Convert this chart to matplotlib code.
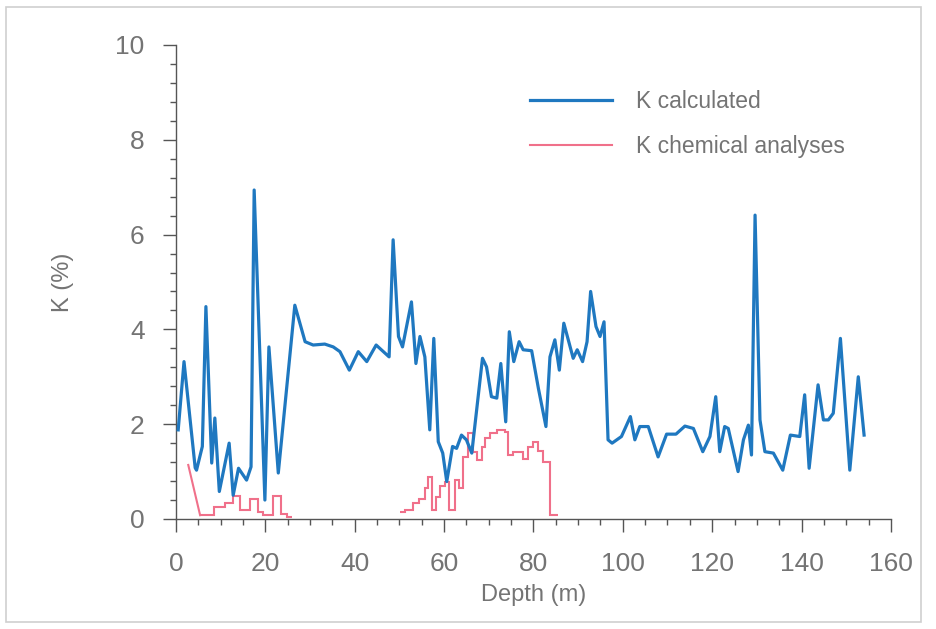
import numpy as np
import matplotlib
matplotlib.use("Agg")
import matplotlib.pyplot as plt
from matplotlib.patches import Rectangle
from matplotlib.ticker import MultipleLocator

plt.rcParams['font.family'] = ['Liberation Sans', 'DejaVu Sans']

# K calculated (blue line)
depth_calc = [0.5, 1.8, 4.3, 4.6, 5.9, 6.7, 8.0, 8.7, 9.7, 11.9, 12.8, 14.0, 15.8, 16.8, 17.5,
              19.9, 20.8, 22.9, 26.6, 28.9, 30.7, 33.3, 35.2, 36.7, 38.8, 40.8, 42.7, 44.8, 47.7,
              48.6, 49.8, 50.7, 52.7, 53.7, 54.6, 55.7, 56.8, 57.7, 58.7, 59.7, 60.6, 61.9, 62.8,
              63.9, 65.0, 66.2, 68.6, 69.5, 70.6, 71.8, 72.7, 73.8, 74.6, 75.6, 76.8, 77.7, 79.6,
              81.1, 82.8, 83.7, 84.8, 85.8, 86.8, 88.9, 89.8, 91.0, 92.0, 92.8, 94.0, 94.9, 95.8,
              96.7, 97.6, 99.7, 101.7, 102.7, 103.8, 105.7, 107.9, 109.8, 111.9, 113.9, 115.8,
              117.9, 119.5, 120.8, 121.7, 122.8, 123.6, 125.8, 127.0, 128.1, 128.8, 129.6, 130.7,
              131.8, 133.7, 135.8, 137.5, 139.6, 140.7, 141.7, 143.7, 144.9, 146.0, 147.1, 148.7,
              150.8, 152.7, 154.0]
k_calc = [1.88, 3.32, 1.08, 1.03, 1.53, 4.48, 1.18, 2.13, 0.58, 1.6, 0.5, 1.07, 0.82, 1.1, 6.94,
          0.4, 3.63, 0.97, 4.51, 3.74, 3.67, 3.69, 3.63, 3.53, 3.14, 3.53, 3.32, 3.67, 3.42,
          5.89, 3.85, 3.63, 4.58, 3.28, 3.85, 3.42, 1.88, 3.81, 1.63, 1.39, 0.79, 1.53, 1.49,
          1.77, 1.67, 1.39, 3.39, 3.21, 2.58, 2.55, 3.28, 2.05, 3.95, 3.32, 3.74, 3.57, 3.55,
          2.76, 1.95, 3.42, 3.78, 3.14, 4.13, 3.39, 3.57, 3.32, 3.74, 4.8, 4.06, 3.85, 4.16,
          1.67, 1.6, 1.74, 2.16, 1.67, 1.95, 1.95, 1.31, 1.79, 1.79, 1.96, 1.91,
          1.42, 1.74, 2.58, 1.42, 1.95, 1.91, 1.0, 1.67, 1.98, 1.35, 6.41, 2.09,
          1.42, 1.39, 1.03, 1.77, 1.74, 2.62, 1.07, 2.83, 2.09, 2.09, 2.23, 3.81,
          1.03, 3.0, 1.77]

# K chemical analyses (pink steps)
chem_start_depth = 2.75
chem_start_k = 1.14
chem_edges1 = [5.4, 8.4, 11.0, 12.8, 14.3, 16.6, 18.4, 19.5, 21.8, 23.6, 24.8, 25.9]
chem_vals1 = [0.08, 0.25, 0.33, 0.49, 0.19, 0.43, 0.15, 0.08, 0.49, 0.1, 0.05]
chem_edges2 = [50.1, 51.2, 53.1, 54.5, 55.7, 56.5, 57.2, 58.3, 59.1, 60.2, 61.2, 62.4, 63.4,
               64.3, 65.4, 66.4, 67.3, 68.4, 69.1, 70.3, 71.8, 73.6, 74.4, 75.5, 77.7, 78.8,
               80.0, 81.1, 82.2, 83.7, 85.6]
chem_vals2 = [0.15, 0.2, 0.33, 0.43, 0.65, 0.89, 0.2, 0.46, 0.7, 0.79, 0.2, 0.83, 0.65, 1.31,
              1.81, 1.41, 1.24, 1.52, 1.7, 1.81, 1.88, 1.84, 1.35, 1.41, 1.27, 1.52, 1.62,
              1.44, 1.2, 0.08]

blue = '#1f78c0'
pink = '#f0708a'
grey = '#747474'

fig = plt.figure(figsize=(9.37, 6.29), dpi=100)
ax = fig.add_axes([0.1878, 0.1749, 0.763, 0.7536])

ax.plot(depth_calc, k_calc, color=blue, lw=2.3, label='K calculated', zorder=3)
ax.plot([chem_start_depth, chem_edges1[0]], [chem_start_k, chem_vals1[0]],
        color=pink, lw=1.5, label='K chemical analyses', zorder=2)
ax.stairs(chem_vals1, chem_edges1, baseline=None, color=pink, lw=1.5, zorder=2)
ax.stairs(chem_vals2, chem_edges2, baseline=None, color=pink, lw=1.5, zorder=2)

ax.set_xlim(0, 160)
ax.set_ylim(0, 10)
ax.xaxis.set_major_locator(MultipleLocator(20))
ax.xaxis.set_minor_locator(MultipleLocator(5))
ax.yaxis.set_major_locator(MultipleLocator(2))
ax.yaxis.set_minor_locator(MultipleLocator(0.4))

for s in ['top', 'right']:
    ax.spines[s].set_visible(False)
for s in ['left', 'bottom']:
    ax.spines[s].set_color('#555555')
    ax.spines[s].set_linewidth(1.0)

ax.tick_params(which='major', length=9.5, width=1.0, color='#555555',
               labelsize=19, labelcolor=grey)
ax.tick_params(which='minor', length=4.5, width=1.0, color='#555555')
ax.tick_params(axis='x', which='major', pad=14)
ax.tick_params(axis='y', which='major', pad=13)

ax.set_xlabel('Depth (m)', fontsize=17, color=grey, labelpad=6)
ax.set_ylabel('K (%)', fontsize=17, color=grey, labelpad=30)

leg = ax.legend(loc='upper left', bbox_to_anchor=(0.495, 0.905), frameon=False,
                fontsize=16.5, handlelength=3.6, handletextpad=1.05,
                labelspacing=0.95, borderpad=0, borderaxespad=0)
for t in leg.get_texts():
    t.set_color(grey)

fig.patches.append(Rectangle((0.006, 0.011), 0.977, 0.978, transform=fig.transFigure,
                             fill=False, edgecolor='#cfcfcf', lw=1.2))

fig.savefig('out.png', dpi=100)
